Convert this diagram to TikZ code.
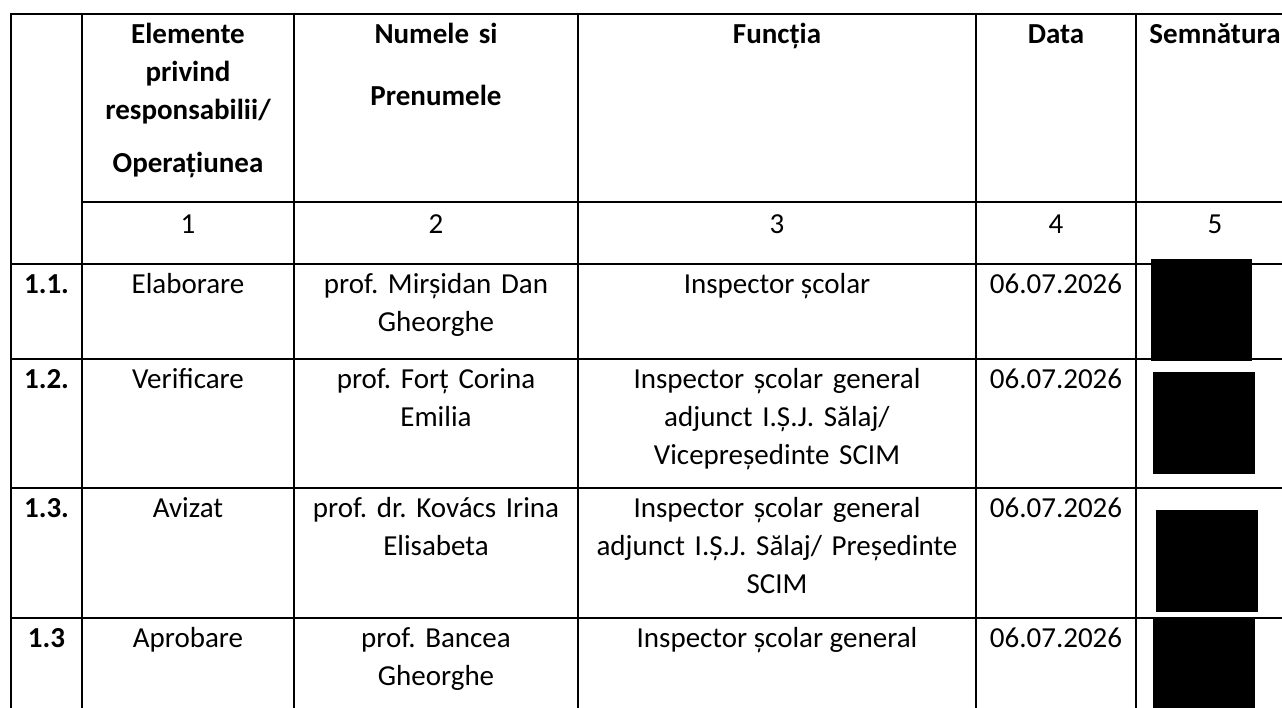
\documentclass[tikz,border=0pt]{standalone}
\usepackage{fontspec}
\setmainfont{Carlito}
\frenchspacing
\begin{document}
\begin{tikzpicture}[x=1pt, y=-1pt,
  every node/.style={inner sep=0pt, anchor=base, align=center, font=\fontsize{29}{38}\selectfont},
  head/.style={font=\fontsize{29}{38}\selectfont\bfseries},
  cell/.style={text width=#1},
  rule/.style={line width=1.6pt},
  sign/.style={fill=black}
]
\useasboundingbox (0,0) rectangle (1282,707);
% grid
\draw[rule] (10.2,14) -- (1300,14);
\draw[rule] (82,202) -- (1300,202);
\foreach \y in {264,359,488,618}
  \draw[rule] (11,\y) -- (1300,\y);
\foreach \x in {11,82,294,578,976,1136}
  \draw[rule] (\x,14) -- (\x,720);
% header
\node[head, cell=200] (elem) at (188,43) {Elemente\\privind\\responsabilii/\\[15pt]Operațiunea};
\node[head, cell=270] (nume) at (436,43) {Numele si\\[24pt]Prenumele};
\node[head] (functia) at (777,43) {Funcția};
\node[head] (data) at (1056,43) {Data};
\node[head] (semn) at (1215,43) {Semnătura};
\node (n1) at (188,233) {1};
\node (n2) at (436,233) {2};
\node (n3) at (777,233) {3};
\node (n4) at (1056,233) {4};
\node (n5) at (1215,233) {5};
% row 1.1
\node[head] (r1) at (46.5,293) {1.1.};
\node (r1op) at (188,293) {Elaborare};
\node[cell=270] (r1nume) at (436,293) {prof. Mirșidan Dan\\Gheorghe};
\node (r1fn) at (777,293) {Inspector școlar};
\node (r1data) at (1056,293) {06.07.2026};
% row 1.2
\node[head] (r2) at (46.5,388) {1.2.};
\node (r2op) at (188,388) {Verificare};
\node[cell=270] (r2nume) at (436,388) {prof. Forț Corina\\Emilia};
\node[cell=390] (r2fn) at (777,388) {Inspector școlar general\\adjunct I.Ș.J. Sălaj/\\Vicepreședinte SCIM};
\node (r2data) at (1056,388) {06.07.2026};
% row 1.3
\node[head] (r3) at (46.5,517) {1.3.};
\node (r3op) at (188,517) {Avizat};
\node[cell=270] (r3nume) at (436,517) {prof. dr. Kovács Irina\\Elisabeta};
\node[cell=390] (r3fn) at (777,517) {Inspector școlar general\\adjunct I.Ș.J. Sălaj/ Președinte\\SCIM};
\node (r3data) at (1056,517) {06.07.2026};
% row 1.3 (aprobare)
\node[head] (r4) at (46.5,647) {1.3};
\node (r4op) at (188,647) {Aprobare};
\node[cell=270] (r4nume) at (436,647) {prof. Bancea\\Gheorghe};
\node (r4fn) at (777,647) {Inspector școlar general};
\node (r4data) at (1056,647) {06.07.2026};
% signatures
\fill[sign] (1151,259) rectangle (1252,361);
\fill[sign] (1153,372) rectangle (1255,474);
\fill[sign] (1156,510) rectangle (1258,612);
\fill[sign] (1153,619) rectangle (1255,720);
\end{tikzpicture}
\end{document}
